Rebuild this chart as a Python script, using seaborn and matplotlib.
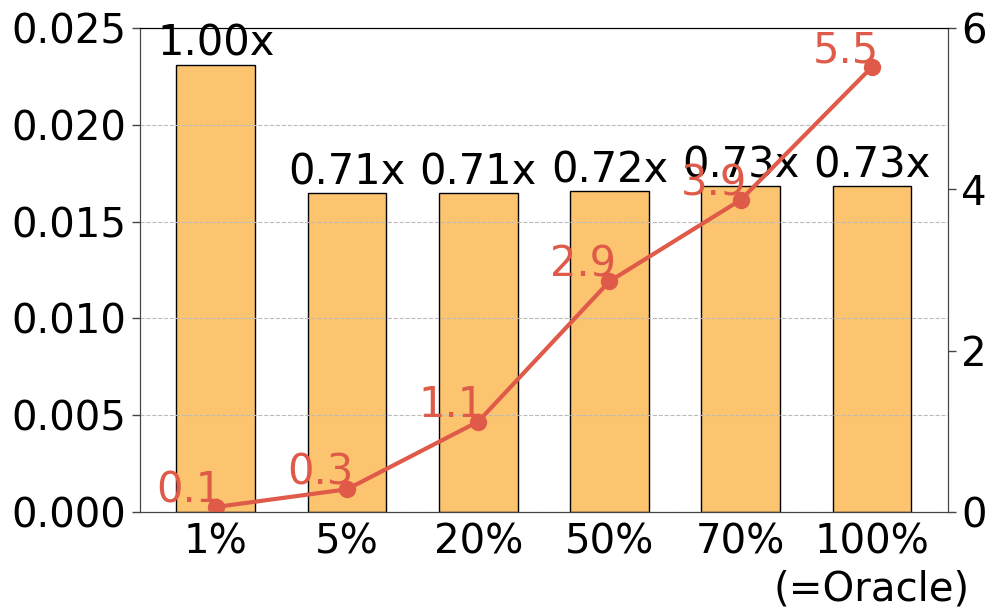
import numpy as np
import seaborn as sns
from matplotlib import pyplot as plt

# chart values
categories = ['1%', '5%', '20%', '50%', '70%', '100%\n(=Oracle)']
bar_values = [0.0231, 0.01648, 0.01648, 0.01658, 0.01684, 0.01684]
bar_labels = ['1.00x', '0.71x', '0.71x', '0.72x', '0.73x', '0.73x']
line_values = [0.06, 0.28, 1.12, 2.86, 3.87, 5.52]

BAR_COLOR = '#fdc470'
LINE_COLOR = '#df5a48'
FS = 29

sns.set_style('ticks')
plt.rcParams['font.family'] = ['DejaVu Sans']

fig = plt.figure(figsize=(9.97, 6.13), dpi=100)
ax = fig.add_axes([0.140, 0.165, 0.811, 0.789])

sns.barplot(x=categories, y=bar_values, ax=ax, color=BAR_COLOR, saturation=1,
            edgecolor='black', linewidth=1, width=0.6, zorder=2)
ax.bar_label(ax.containers[0], labels=bar_labels, padding=0, fontsize=30, color='black')

ax.set_ylim(0, 0.025)
ax.set_yticks([0, 0.005, 0.010, 0.015, 0.020, 0.025])
ax.set_yticklabels([f'{t:.3f}' for t in ax.get_yticks()])
ax.set_xlim(-0.58, len(categories) - 0.42)
ax.yaxis.grid(True, linestyle='--', color='#bbbbbb', linewidth=0.8, zorder=3)
ax.set_axisbelow(False)
ax.tick_params(axis='both', labelsize=FS, length=6, width=1, color='#444444',
               labelcolor='black')
ax.tick_params(axis='x', length=0, pad=8)

# accuracy / speed line on the right axis
ax2 = ax.twinx()
pos = np.arange(len(categories))
sns.lineplot(x=pos, y=line_values, ax=ax2, color=LINE_COLOR, marker='o',
             markersize=12.5, linewidth=3, markeredgewidth=0, sort=False)
for x, v in zip(pos, line_values):
    ax2.text(x + 0.05, v + 0.06, f'{v:.1f}', color=LINE_COLOR, fontsize=30,
             ha='right', va='baseline')
ax2.set_ylim(0, 6)
ax2.set_yticks([0, 2, 4, 6])
ax2.tick_params(axis='y', labelsize=FS, length=6, width=1, color='#444444',
                labelcolor='black')

for a in (ax, ax2):
    for side in ('left', 'right', 'bottom'):
        a.spines[side].set_color('#444444')
        a.spines[side].set_visible(True)
    a.spines['top'].set_color('black')
    a.spines['top'].set_visible(True)

fig.savefig('out.png', dpi=100)
